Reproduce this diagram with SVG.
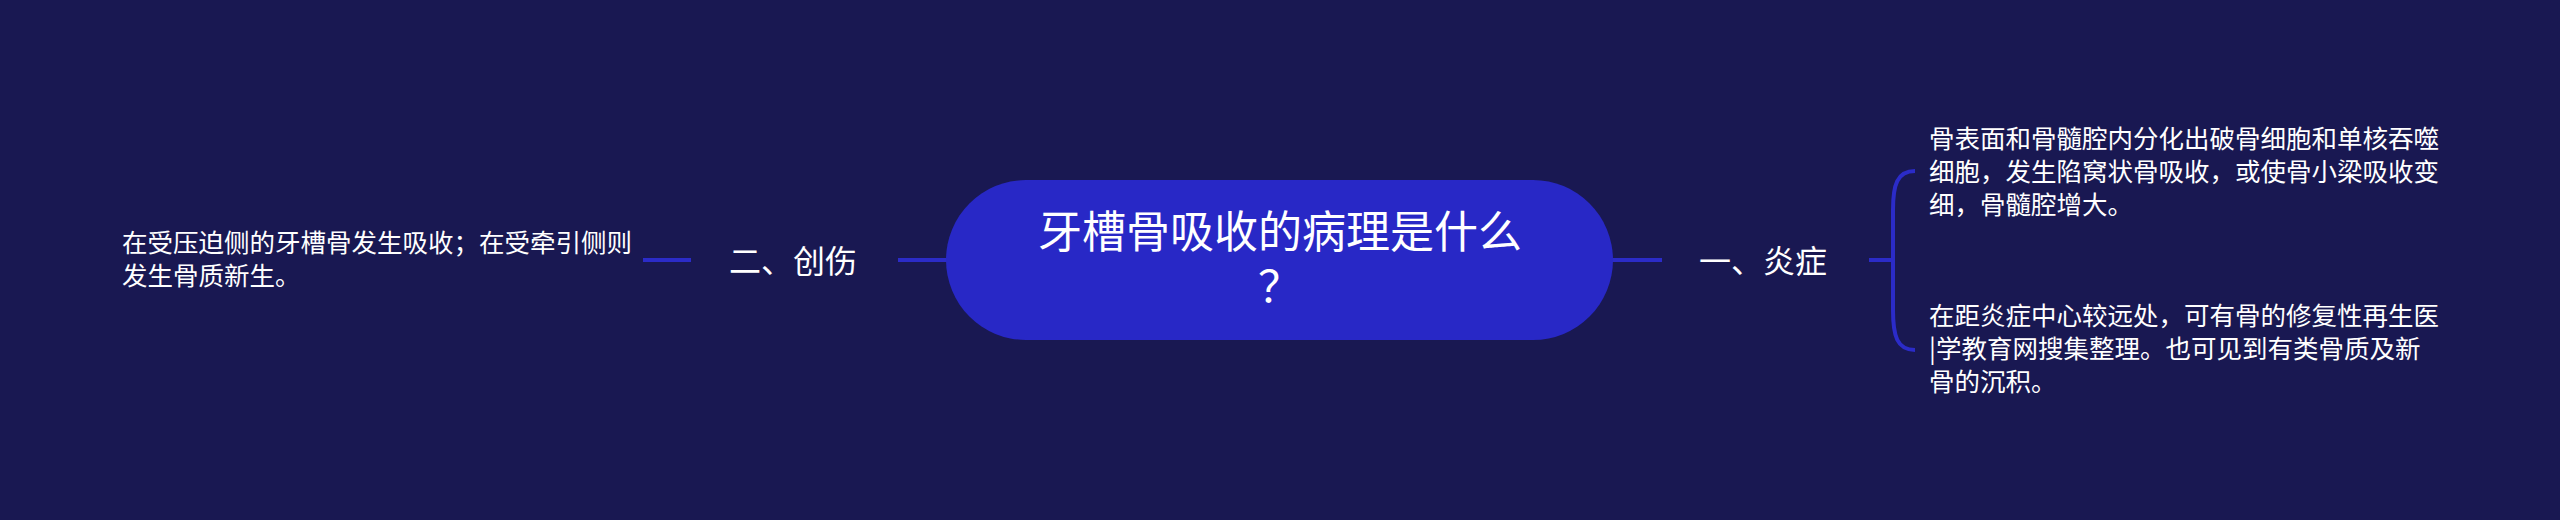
<svg xmlns="http://www.w3.org/2000/svg" width="2560" height="520" viewBox="0 0 2560 520">
<style>
text{font-family:"Noto Sans CJK SC","Noto Sans",sans-serif;fill:#ffffff}
.root{font-size:44px}
.lbl{font-size:32px}
.leaf{font-size:25.5px}
.conn{stroke:#2b2bc8;stroke-width:4;fill:none}
</style>
<rect width="2560" height="520" fill="#191852"/>
<g id="connectors">
<line class="conn" x1="898" y1="260" x2="948" y2="260"/>
<line class="conn" x1="643" y1="260" x2="691" y2="260"/>
<line class="conn" x1="1611" y1="260" x2="1662" y2="260"/>
<line class="conn" x1="1869" y1="260" x2="1893" y2="260"/>
<path class="conn" d="M1915,171 C1897,171 1893,185 1893,210 L1893,310 C1893,336 1897,350 1915,350"/>
</g>
<g id="root">
<rect x="946" y="180" width="667" height="160" rx="80" ry="80" fill="#2828c6"/>
<text class="root" text-anchor="middle"><tspan x="1280" y="248">牙槽骨吸收的病理是什么</tspan><tspan x="1280" y="303">？</tspan></text>
</g>
<g id="n1">
<text class="lbl" x="1699" y="273">一、炎症</text>
</g>
<g id="n1a">
<text class="leaf"><tspan x="1929" y="148">骨表面和骨髓腔内分化出破骨细胞和单核吞噬</tspan><tspan x="1929" y="181">细胞，发生陷窝状骨吸收，或使骨小梁吸收变</tspan><tspan x="1929" y="214">细，骨髓腔增大。</tspan></text>
</g>
<g id="n1b">
<text class="leaf"><tspan x="1929" y="325">在距炎症中心较远处，可有骨的修复性再生医</tspan><tspan x="1929" y="358">|学教育网搜集整理。也可见到有类骨质及新</tspan><tspan x="1929" y="391">骨的沉积。</tspan></text>
</g>
<g id="n2">
<text class="lbl" x="729" y="273">二、创伤</text>
</g>
<g id="n2a">
<text class="leaf"><tspan x="122" y="252">在受压迫侧的牙槽骨发生吸收；在受牵引侧则</tspan><tspan x="122" y="285">发生骨质新生。</tspan></text>
</g>
</svg>
